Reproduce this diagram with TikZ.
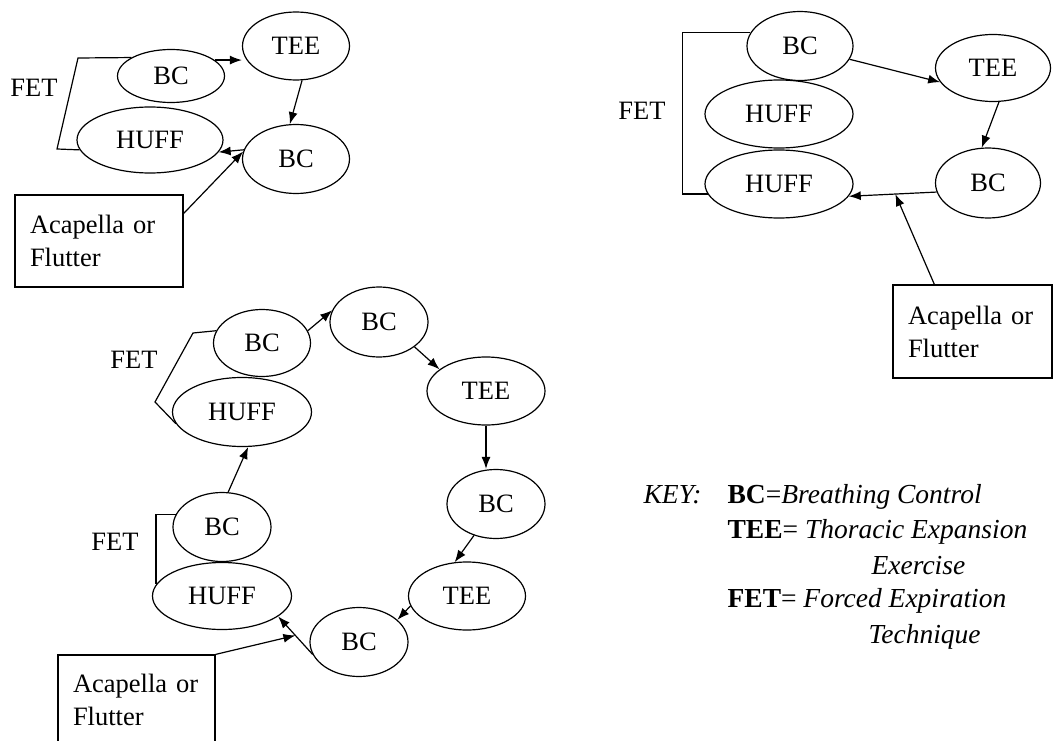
\documentclass[tikz,border=0pt]{standalone}
\usepackage{fontspec}
\setmainfont{Liberation Serif}
\usetikzlibrary{shapes.geometric,arrows.meta,calc}

\tikzset{
  proc/.style={ellipse, draw, inner sep=0pt},
  bc/.style={proc, minimum width=98pt, minimum height=69pt},
  tee/.style={proc, minimum width=115pt, minimum height=68pt},
  huff/.style={proc, minimum width=142pt, minimum height=68pt},
  dev/.style={draw, align=left, inner xsep=15pt, inner ysep=0pt},
  keyline/.style={anchor=base west, inner sep=0pt, font=\fontsize{27.5}{33}\selectfont}
}

\begin{document}
\begin{tikzpicture}[x=1pt, y=-1pt, line width=1.2pt, >={Latex[length=12pt,width=9pt]},
  font=\fontsize{26.5}{33}\selectfont]
\useasboundingbox (0,0) rectangle (1055,741);

\node[bc, minimum width=107pt, minimum height=53pt] (BC1) at (171,76) {BC};
\node[tee, minimum width=107pt] (TEE1) at (296,46) {TEE};
\node[huff, minimum width=146pt, minimum height=66pt] (HUFF1) at (150,140) {HUFF};
\node[bc, minimum width=107pt] (BC2) at (296,159) {BC};
\node[dev, text width=138pt, minimum height=92pt] (Dev1) at (99,241) {Acapella or\\Flutter};
\node (FET1) at (34,88) {FET};
\draw[->] (BC1.20) -- (BC1.20 -| TEE1.west);
\draw[->] (TEE1.-80) -- (BC2.100);
\draw[->] (BC2.170) -- (HUFF1.-10);
\draw[->] (Dev1.18) -- (BC2.172);
\draw (BC1.155) -- (78,58) -- (57,149) -- (HUFF1.188);

\node[bc, minimum width=106pt] (BC3) at (800,46) {BC};
\node[tee, minimum height=67pt] (TEE2) at (993,68) {TEE};
\node[huff, minimum width=148pt] (HUFF2) at (779,114) {HUFF};
\node[huff, minimum width=148pt] (HUFF3) at (779,184) {HUFF};
\node[bc, minimum width=105pt, minimum height=70pt] (BC4) at (988,183) {BC};
\node[dev, text width=129pt, minimum height=93pt] (Dev2) at (972.5,331.5) {Acapella or\\Flutter};
\node (FET2) at (642,111) {FET};
\draw[->] (BC3.-15) -- (TEE2.195);
\draw[->] (TEE2.-80) -- (BC4.100);
\draw[->] (BC4.190) -- (HUFF3.-10);
\coordinate (J2) at ($(BC4.190)!0.47!(HUFF3.-10)$);
\draw[->] (Dev2.129) -- (J2);
\draw (BC3.165) -| ([xshift=-25pt]HUFF3.188) -- (HUFF3.188);

\node[bc, minimum width=97pt, minimum height=67pt] (BC5) at (262,343) {BC};
\node[bc, minimum height=70pt] (BC6) at (379,322) {BC};
\node[huff, minimum width=139pt, minimum height=69pt] (HUFF4) at (242,412) {HUFF};
\node[tee, minimum width=118pt] (TEE3) at (486,391) {TEE};
\node[bc] (BC7) at (496,504) {BC};
\node[bc] (BC8) at (222,527) {BC};
\node[tee, minimum width=117pt] (TEE4) at (467,596) {TEE};
\node[huff, minimum width=139pt, minimum height=67pt] (HUFF5) at (222,596) {HUFF};
\node[bc] (BC9) at (359,642) {BC};
\node[dev, text width=127pt, minimum height=90pt] (Dev3) at (136.5,700) {Acapella or\\Flutter};
\node (FET3) at (134,360) {FET};
\node (FET4) at (115,542) {FET};
\draw[->] (BC5.15) -- (BC6.166);
\draw[->] (BC6.-35) -- (TEE3.155);
\draw[->] (TEE3.south) -- (TEE3.south |- BC7.north);
\draw[->] (BC7.-125) -- (TEE4.110);
\draw[->] (TEE4.190) -- (BC9.30);
\draw[->] (BC9.195) -- (HUFF5.-20);
\coordinate (J3) at ($(BC9.195)!0.5!(HUFF5.-20)$);
\draw[->] (Dev3.north east) -- (J3);
\draw[->] (BC8.80) -- (HUFF4.-80);
\draw (BC5.165) -- (193,333) -- (155,402) -- (HUFF4.190);
\draw (BC8.165) -| (HUFF5.170);

\node[keyline] (KEY) at (643,503) {\textit{KEY:}};
\node[keyline] (K1) at (727,503) {\textbf{BC}=\textit{Breathing Control}};
\node[keyline] (K2) at (727,538) {\textbf{TEE}= \textit{Thoracic Expansion}};
\node[keyline] (K3) at (871,574) {\textit{Exercise}};
\node[keyline] (K4) at (727,607) {\textbf{FET}= \textit{Forced Expiration}};
\node[keyline] (K5) at (868,643) {\textit{Technique}};
\end{tikzpicture}
\end{document}
